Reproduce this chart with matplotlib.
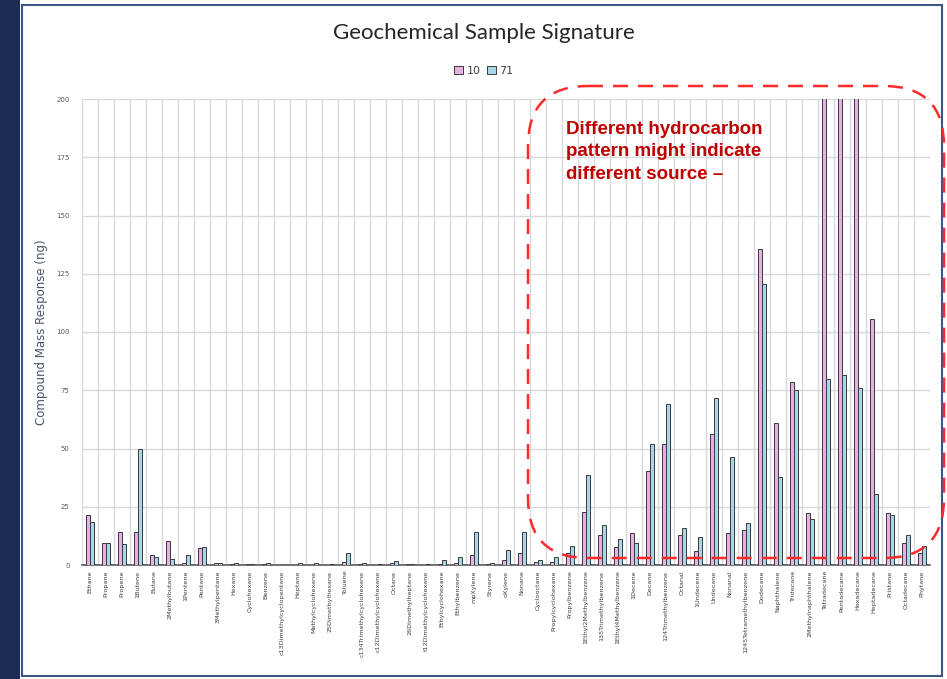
import numpy as np
import matplotlib
matplotlib.use("Agg")
import matplotlib.pyplot as plt
from matplotlib.patches import FancyBboxPatch, Rectangle

# compound names along the x axis
compounds = [
    "Ethane", "Propane", "Propene", "1Butene", "Butane", "2Methylbutane",
    "1Pentene", "Pentane", "3Methylpentane", "Hexane", "Cyclohexane", "Benzene",
    "c13Dimethylcyclopentane", "Heptane", "Methylcyclohexane", "25Dimethylhexane",
    "Toluene", "c134Trimethylcyclohexane", "c12Dimethylcyclohexane", "Octane",
    "26Dimethylheptane", "t12Dimethylcyclohexane", "Ethylcyclohexane",
    "Ethylbenzene", "mpXylene", "Styrene", "oXylene", "Nonane", "Cyclooctane",
    "Propylcyclohexane", "Propylbenzene", "1Ethyl2Methylbenzene",
    "135Trimethylbenzene", "1Ethyl4Methylbenzene", "1Decene", "Decane",
    "124Trimethylbenzene", "Octanal", "1Undecene", "Undecane", "Nonanal",
    "1245Tetramethylbenzene", "Dodecane", "Naphthalene", "Tridecane",
    "2Methylnaphthalene", "Tetradecane", "Pentadecane", "Hexadecane",
    "Heptadecane", "Pristane", "Octadecane", "Phytane",
]

# sample 10 (pink) -- values above 200 are clipped by the axis
sample_10 = [
    21.5, 9.3, 14.3, 14.3, 4.3, 10.4,
    1.0, 7.2, 1.0, 0.5, 0.3, 0.3,
    0.0, 0.2, 0.2, 0.2,
    1.4, 0.3, 0.2, 0.7,
    0.3, 0.2, 0.3,
    1.0, 4.3, 0.3, 2.1, 5.0, 1.2,
    1.2, 5.0, 22.9,
    12.9, 7.9, 13.6, 40.3,
    51.9, 12.9, 6.1, 56.1, 13.6,
    15.0, 135.5, 60.8, 78.7,
    22.2, 240.0, 240.0, 240.0,
    105.4, 22.2, 9.3, 5.0,
]

# sample 71 (blue)
sample_71 = [
    18.6, 9.6, 9.0, 50.0, 3.6, 2.4,
    4.3, 7.9, 0.8, 1.0, 0.3, 1.0,
    0.2, 1.0, 1.0, 0.3,
    5.0, 0.7, 0.3, 1.8,
    0.5, 0.3, 2.1,
    3.3, 14.3, 0.8, 6.4, 14.3, 2.1,
    3.6, 8.3, 38.6,
    17.3, 11.2, 9.3, 52.0,
    69.0, 15.7, 11.9, 71.8, 46.5,
    18.2, 120.5, 37.9, 75.1,
    19.7, 79.7, 81.5, 75.8,
    30.5, 21.5, 12.9, 8.2,
]

W, H = 947, 679
fig = plt.figure(figsize=(W / 100, H / 100), dpi=100)
fig.patch.set_facecolor("white")

# background layer in pixel units: slide strip and chart frame
bg = fig.add_axes([0, 0, 1, 1], zorder=0)
bg.set_xlim(0, W)
bg.set_ylim(H, 0)
bg.axis("off")
bg.add_patch(Rectangle((0, 0), 20, H, facecolor="#1d2b55", edgecolor="none"))
bg.add_patch(Rectangle((22, 5), 920, 671, facecolor="white",
                       edgecolor="#3b5584", linewidth=1.5))

# main chart
ax = fig.add_axes([82 / W, 1 - 565 / H, 848 / W, 466 / H], zorder=1)
x = np.arange(len(compounds))
bw = 0.28
ax.bar(x - 0.14, sample_10, bw, color="#e2b3e2", edgecolor="#3a3a3a",
       linewidth=0.7, label="10", zorder=3)
ax.bar(x + 0.14, sample_71, bw, color="#a9d5e6", edgecolor="#3a3a3a",
       linewidth=0.7, label="71", zorder=3)

ax.set_xlim(-0.5, len(compounds) - 0.5)
ax.set_ylim(0, 200)
ax.set_yticks(np.arange(0, 201, 25))
ax.set_xticks(x)
ax.set_xticklabels(compounds, rotation=90, fontsize=4.6, color="#404040")
ax.set_xticks(np.arange(-0.5, len(compounds), 1), minor=True)
ax.tick_params(axis="x", which="both", length=0, pad=4)
ax.tick_params(axis="y", length=0, labelsize=5, labelcolor="#595959", pad=9)
ax.grid(axis="y", color="#d9d9d9", linewidth=1.0, zorder=0)
ax.grid(axis="x", which="minor", color="#d9d9d9", linewidth=1.0, zorder=0)
for s in ["top", "right", "left"]:
    ax.spines[s].set_visible(False)
ax.spines["bottom"].set_color("#595959")
ax.spines["bottom"].set_linewidth(1.2)
ax.set_ylabel("Compound Mass Response (ng)", fontsize=8.5, color="#44546a",
              labelpad=6)

fig.text(484 / W, 1 - 33 / H, "Geochemical Sample Signature", ha="center",
         va="center", fontsize=16, family="Lato", color="#262626")
fig.legend(loc="center", bbox_to_anchor=(484 / W, 1 - 71 / H), ncol=2,
           frameon=False, fontsize=8, handlelength=0.8, handleheight=0.8,
           handletextpad=0.3, columnspacing=0.6, labelcolor="#404040")

# overlay: dashed callout box and annotation text
ov = fig.add_axes([0, 0, 1, 1], zorder=5)
ov.set_xlim(0, W)
ov.set_ylim(H, 0)
ov.axis("off")
ov.patch.set_alpha(0)
ov.add_patch(FancyBboxPatch((528, 86), 416, 472,
                            boxstyle="round,pad=0,rounding_size=60",
                            facecolor="none", edgecolor="#ff2a2a",
                            linewidth=1.8, linestyle=(0, (6, 4))))
ov.text(566, 121, "Different hydrocarbon\npattern might indicate\ndifferent source \u2013",
        ha="left", va="top", fontsize=13.5, fontweight="bold",
        family="Liberation Sans", color="#c00000", linespacing=1.42)

fig.savefig("out.png", dpi=100)
